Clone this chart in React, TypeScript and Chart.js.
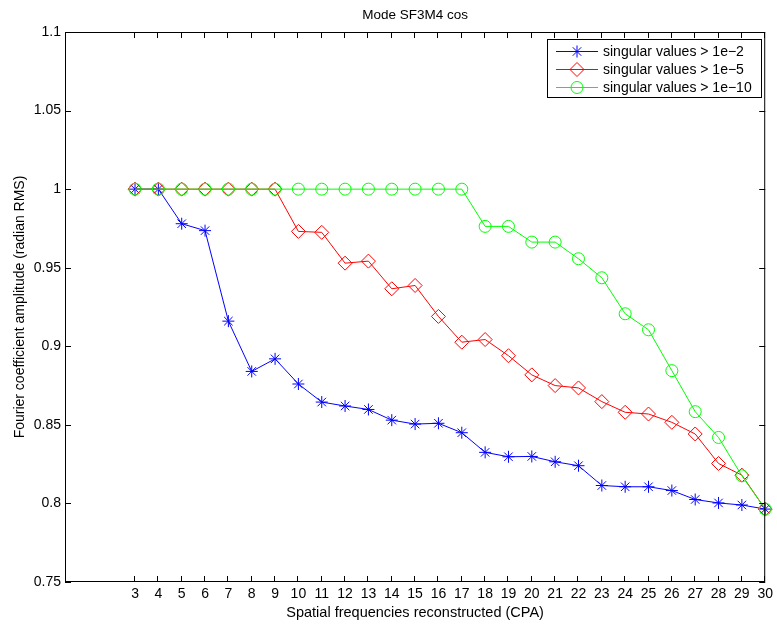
import React, { useEffect, useRef } from 'react';
import { Chart, registerables } from 'chart.js';

Chart.register(...registerables);

const chartTitle = 'Mode SF3M4 cos';
const xAxisLabel = 'Spatial frequencies reconstructed (CPA)';
const yAxisLabel = 'Fourier coefficient amplitude (radian RMS)';

const xValues = [3, 4, 5, 6, 7, 8, 9, 10, 11, 12, 13, 14, 15, 16, 17, 18, 19, 20, 21, 22, 23, 24, 25, 26, 27, 28, 29, 30];

const sv1e2 = [1.0, 1.0, 0.978, 0.9736, 0.916, 0.884, 0.892, 0.876, 0.8645, 0.862, 0.8598, 0.853, 0.8505, 0.851, 0.845, 0.8325, 0.8297, 0.8299, 0.8265, 0.824, 0.8114, 0.8106, 0.8106, 0.8082, 0.8025, 0.8003, 0.799, 0.7964];
const sv1e5 = [1.0, 1.0, 1.0, 1.0, 1.0, 1.0, 1.0, 0.9731, 0.9725, 0.9529, 0.9542, 0.9366, 0.9387, 0.919, 0.9026, 0.9043, 0.894, 0.8818, 0.875, 0.8735, 0.8648, 0.858, 0.8569, 0.8516, 0.8442, 0.8254, 0.818, 0.7964];
const sv1e10 = [1.0, 1.0, 1.0, 1.0, 1.0, 1.0, 1.0, 1.0, 1.0, 1.0, 1.0, 1.0, 1.0, 1.0, 1.0, 0.9763, 0.9763, 0.9663, 0.9663, 0.9557, 0.9436, 0.9207, 0.9105, 0.8845, 0.8584, 0.842, 0.8176, 0.7964];

const xTicks = [3, 4, 5, 6, 7, 8, 9, 10, 11, 12, 13, 14, 15, 16, 17, 18, 19, 20, 21, 22, 23, 24, 25, 26, 27, 28, 29, 30];
const yTicks = [0.75, 0.8, 0.85, 0.9, 0.95, 1.0, 1.05, 1.1];

const seriesLabels = ['singular values > 1e\u22122', 'singular values > 1e\u22125', 'singular values > 1e\u221210'];
const seriesColors = ['#0000ff', '#ff0000', '#00ff00'];
const seriesMarkers = ['star', 'rectRot', 'circle'];

const FONT = '"Liberation Sans", Arial, Helvetica, sans-serif';

function drawMarker(ctx: CanvasRenderingContext2D, kind: string, x: number, y: number, color: string) {
  ctx.save();
  ctx.strokeStyle = color;
  ctx.lineWidth = 1;
  ctx.beginPath();
  if (kind === 'circle') {
    ctx.arc(x, y, 6, 0, Math.PI * 2);
  } else if (kind === 'rectRot') {
    const r = 7;
    ctx.moveTo(x - r, y);
    ctx.lineTo(x, y - r);
    ctx.lineTo(x + r, y);
    ctx.lineTo(x, y + r);
    ctx.closePath();
  } else {
    const r = 6;
    ctx.moveTo(x - r, y);
    ctx.lineTo(x + r, y);
    ctx.moveTo(x, y - r);
    ctx.lineTo(x, y + r);
    const d = r * Math.SQRT1_2;
    ctx.moveTo(x - d, y - d);
    ctx.lineTo(x + d, y + d);
    ctx.moveTo(x - d, y + d);
    ctx.lineTo(x + d, y - d);
  }
  ctx.stroke();
  ctx.restore();
}

const framePlugin = {
  id: 'matlabFrame',
  afterDatasetsDraw(chart: any) {
    const { ctx, chartArea } = chart;
    const { left, right, top, bottom } = chartArea;
    const xs = chart.scales.x;
    const ys = chart.scales.y;
    ctx.save();
    ctx.strokeStyle = '#000';
    ctx.lineWidth = 1;
    // box
    ctx.strokeRect(left + 0.5, top + 0.5, right - left - 1, bottom - top - 1);
    // ticks inside
    ctx.beginPath();
    const tl = 6;
    for (const v of xTicks) {
      const px = Math.round(xs.getPixelForValue(v)) - 0.5;
      ctx.moveTo(px, bottom);
      ctx.lineTo(px, bottom - tl);
      ctx.moveTo(px, top);
      ctx.lineTo(px, top + tl);
    }
    for (const v of yTicks) {
      const py = Math.round(ys.getPixelForValue(v)) + 0.5;
      ctx.moveTo(left, py);
      ctx.lineTo(left + tl, py);
      ctx.moveTo(right, py);
      ctx.lineTo(right - tl, py);
    }
    ctx.stroke();

    // titles
    ctx.fillStyle = '#000';
    ctx.textAlign = 'center';
    ctx.textBaseline = 'alphabetic';
    ctx.font = `13.5px ${FONT}`;
    ctx.fillText(chartTitle, (left + right) / 2, 19);
    ctx.font = `14.5px ${FONT}`;
    ctx.fillText(xAxisLabel, (left + right) / 2, 617);
    ctx.save();
    ctx.translate(24, (top + bottom) / 2);
    ctx.rotate(-Math.PI / 2);
    ctx.font = `14px ${FONT}`;
    ctx.fillText(yAxisLabel, 0, 0);
    ctx.restore();

    // legend
    const bx = 547, by = 39, bw = 214, bh = 58;
    ctx.fillStyle = '#fff';
    ctx.fillRect(bx, by, bw, bh);
    ctx.strokeStyle = '#000';
    ctx.strokeRect(bx + 0.5, by + 0.5, bw, bh);
    const rows = [51, 69, 87];
    ctx.font = `14px ${FONT}`;
    ctx.textAlign = 'left';
    ctx.textBaseline = 'middle';
    seriesLabels.forEach((lab, i) => {
      const y = rows[i] + 0.5;
      ctx.strokeStyle = seriesColors[i];
      ctx.beginPath();
      ctx.moveTo(556, y);
      ctx.lineTo(598, y);
      ctx.stroke();
      drawMarker(ctx, seriesMarkers[i], 577, y, seriesColors[i]);
      ctx.fillStyle = '#000';
      ctx.fillText(lab, 603, rows[i] + 1);
    });
    ctx.restore();
  },
};

export default function App() {
  const canvasRef = useRef<HTMLCanvasElement | null>(null);

  useEffect(() => {
    document.body.style.margin = '0';
    const canvas = canvasRef.current;
    if (!canvas) return;
    const series = [sv1e2, sv1e5, sv1e10];
    const datasets = series.map((arr, i) => ({
      label: seriesLabels[i],
      data: xValues.map((x, j) => ({ x, y: arr[j] })),
      borderColor: seriesColors[i],
      borderWidth: 1,
      backgroundColor: 'transparent',
      pointStyle: seriesMarkers[i] as any,
      pointRadius: seriesMarkers[i] === 'rectRot' ? 7 : 6,
      pointBorderColor: seriesColors[i],
      pointBackgroundColor: 'transparent',
      pointBorderWidth: 1,
      fill: false,
      tension: 0,
      clip: false as any,
      order: 2 - i,
    }));

    const chart = new Chart(canvas, {
      type: 'line',
      data: { datasets },
      plugins: [framePlugin],
      options: {
        responsive: false,
        animation: false,
        devicePixelRatio: 1,
        layout: { padding: { top: 32, right: 8, left: 0, bottom: 0 } },
        plugins: {
          legend: { display: false },
          tooltip: { enabled: false },
          title: { display: false },
        },
        scales: {
          x: {
            type: 'linear',
            min: 0,
            max: 30,
            afterBuildTicks: (scale: any) => {
              scale.ticks = xTicks.map((v) => ({ value: v }));
            },
            afterFit: (scale: any) => {
              scale.height = 42;
            },
            grid: { drawOnChartArea: false, drawTicks: false },
            border: { display: false },
            ticks: {
              autoSkip: false,
              maxRotation: 0,
              padding: 4,
              color: '#000',
              font: { family: FONT, size: 14 },
              callback: (v: any) => String(v),
            },
          },
          y: {
            type: 'linear',
            min: 0.75,
            max: 1.1,
            afterBuildTicks: (scale: any) => {
              scale.ticks = yTicks.map((v) => ({ value: v }));
            },
            afterFit: (scale: any) => {
              scale.width = 65;
            },
            grid: { drawOnChartArea: false, drawTicks: false },
            border: { display: false },
            ticks: {
              autoSkip: false,
              padding: 4,
              color: '#000',
              font: { family: FONT, size: 14 },
              callback: (v: any) => String(+Number(v).toFixed(2)),
            },
          },
        },
      },
    });
    return () => chart.destroy();
  }, []);

  return (
    <div style={{ width: 777, height: 624, background: '#fff' }}>
      <canvas ref={canvasRef} width={777} height={624} style={{ display: 'block' }} />
    </div>
  );
}
